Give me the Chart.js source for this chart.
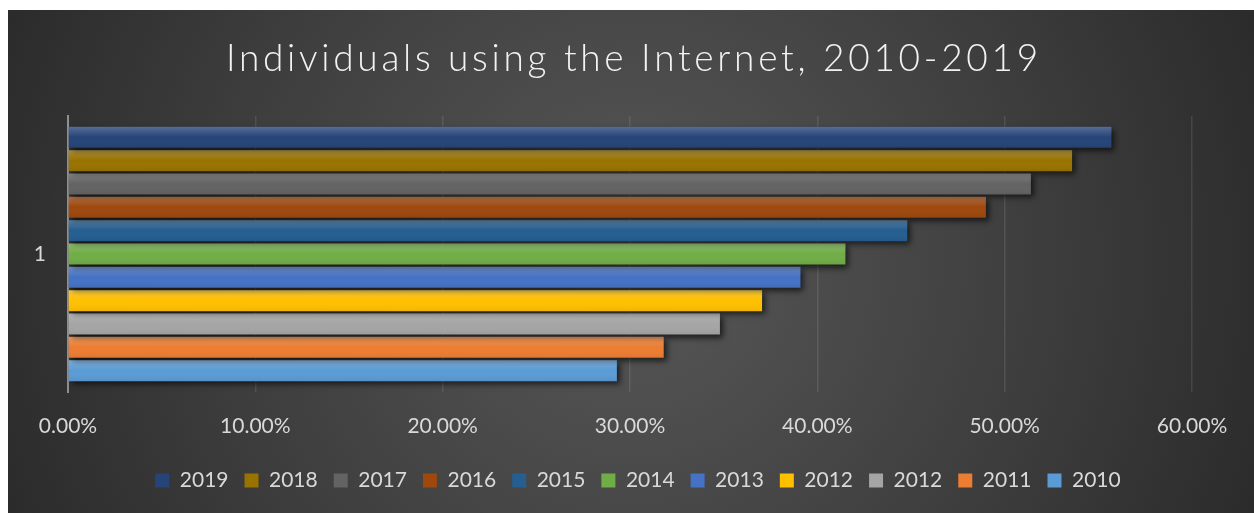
<!DOCTYPE html>
<html>
<head>
<meta charset="utf-8">
<script src="https://cdn.jsdelivr.net/npm/chart.js@4"></script>
<style>
  html, body { margin: 0; padding: 0; background: #fff; }
  #wrap { position: absolute; left: 8px; top: 10px; width: 1246px; height: 503px; }
</style>
</head>
<body>
<div id="wrap"><canvas id="chartInternet"></canvas></div>
<script>
// data (percent of individuals)
var categories = ['1'];
var seriesNames = ['2019', '2018', '2017', '2016', '2015', '2014', '2013', '2012', '2012', '2011', '2010'];
var seriesValues = [55.7, 53.6, 51.4, 49.0, 44.8, 41.5, 39.1, 37.05, 34.8, 31.8, 29.3];
var seriesColors = ['#264478', '#997300', '#636363', '#9E480E', '#255E91', '#70AD47', '#4472C4', '#FFC000', '#A5A5A5', '#ED7D31', '#5B9BD5'];
var xTicks = [0, 10, 20, 30, 40, 50, 60];
var chartTitle = 'Individuals using the Internet, 2010-2019';

var textColor = '#d9d9d9';
var fontFamily = 'Lato, "Open Sans", sans-serif';

var datasets = seriesNames.map(function (name, i) {
    return {
        label: name,
        data: [seriesValues[i]],
        backgroundColor: seriesColors[i],
        borderWidth: 0,
        categoryPercentage: 0.93,
        barPercentage: 0.9
    };
});

// dark radial background, bar shadows and gloss, letter-spaced title
var stylePlugin = {
    id: 'stylePlugin',
    afterLayout: function (chart) {
        // legend in the original sits a little right of centre
        chart.legend.left += 8;
        chart.legend.right += 8;
    },
    beforeDraw: function (chart) {
        var ctx = chart.ctx;
        var w = chart.width, h = chart.height;
        var g = ctx.createRadialGradient(w * 0.5, h * 0.5, 10, w * 0.5, h * 0.5, w * 0.62);
        g.addColorStop(0, '#575757');
        g.addColorStop(0.55, '#3c3c3c');
        g.addColorStop(1, '#242424');
        ctx.save();
        ctx.fillStyle = g;
        ctx.fillRect(0, 0, w, h);
        ctx.restore();
    },
    beforeDatasetsDraw: function (chart) {
        var ctx = chart.ctx;
        ctx.save();
        ctx.shadowColor = 'rgba(0,0,0,0.65)';
        ctx.shadowBlur = 6;
        ctx.shadowOffsetX = 3;
        ctx.shadowOffsetY = 3;
    },
    afterDatasetsDraw: function (chart) {
        var ctx = chart.ctx;
        ctx.restore();
        ctx.save();
        chart.data.datasets.forEach(function (ds, di) {
            var meta = chart.getDatasetMeta(di);
            meta.data.forEach(function (bar) {
                var p = bar.getProps(['x', 'y', 'base', 'height'], true);
                var left = Math.min(p.x, p.base);
                var width = Math.abs(p.x - p.base);
                var top = p.y - p.height / 2;
                var g = ctx.createLinearGradient(0, top, 0, top + p.height);
                g.addColorStop(0, 'rgba(255,255,255,0.22)');
                g.addColorStop(0.5, 'rgba(255,255,255,0.0)');
                g.addColorStop(1, 'rgba(0,0,0,0.06)');
                ctx.fillStyle = g;
                ctx.fillRect(left, top, width, p.height);
            });
        });
        ctx.restore();
    },
    afterDraw: function (chart) {
        var ctx = chart.ctx;
        ctx.save();
        ctx.font = '300 37px ' + fontFamily;
        ctx.fillStyle = '#f2f2f2';
        ctx.textAlign = 'center';
        ctx.textBaseline = 'alphabetic';
        var plain = ctx.measureText(chartTitle).width;
        var spacing = Math.max(0, (816 - plain) / chartTitle.length);
        ctx.letterSpacing = spacing.toFixed(2) + 'px';
        ctx.fillText(chartTitle, chart.width / 2 + 1 + spacing / 2, 61);
        ctx.restore();
    }
};

var ctx = document.getElementById('chartInternet').getContext('2d');
var myChart = new Chart(ctx, {
    type: 'bar',
    data: {
        labels: categories,
        datasets: datasets
    },
    options: {
        indexAxis: 'y',
        responsive: true,
        maintainAspectRatio: false,
        animation: false,
        layout: {
            padding: { top: 106, right: 62, left: 0, bottom: 12 }
        },
        scales: {
            x: {
                min: 0,
                max: 60,
                afterBuildTicks: function (scale) {
                    scale.ticks = xTicks.map(function (v) { return { value: v }; });
                },
                afterFit: function (scale) { scale.height = 62; },
                grid: {
                    color: 'rgba(255,255,255,0.1)',
                    lineWidth: 1.5,
                    drawTicks: false
                },
                border: { display: false },
                ticks: {
                    color: textColor,
                    padding: 22,
                    maxRotation: 0,
                    font: { family: fontFamily, size: 21 },
                    callback: function (v) { return Number(v).toFixed(2) + '%'; }
                }
            },
            y: {
                afterFit: function (scale) { scale.width = 60; },
                grid: { display: false, drawTicks: false },
                border: { display: true, color: '#8f8f8f', width: 2 },
                ticks: {
                    color: textColor,
                    padding: 22,
                    font: { family: fontFamily, size: 21 }
                }
            }
        },
        plugins: {
            title: { display: false },
            tooltip: { enabled: false },
            legend: {
                position: 'bottom',
                fullSize: false,
                labels: {
                    color: textColor,
                    boxWidth: 14,
                    boxHeight: 14,
                    padding: 16,
                    font: { family: fontFamily, size: 21 }
                }
            }
        }
    },
    plugins: [stylePlugin]
});
</script>
</body>
</html>
